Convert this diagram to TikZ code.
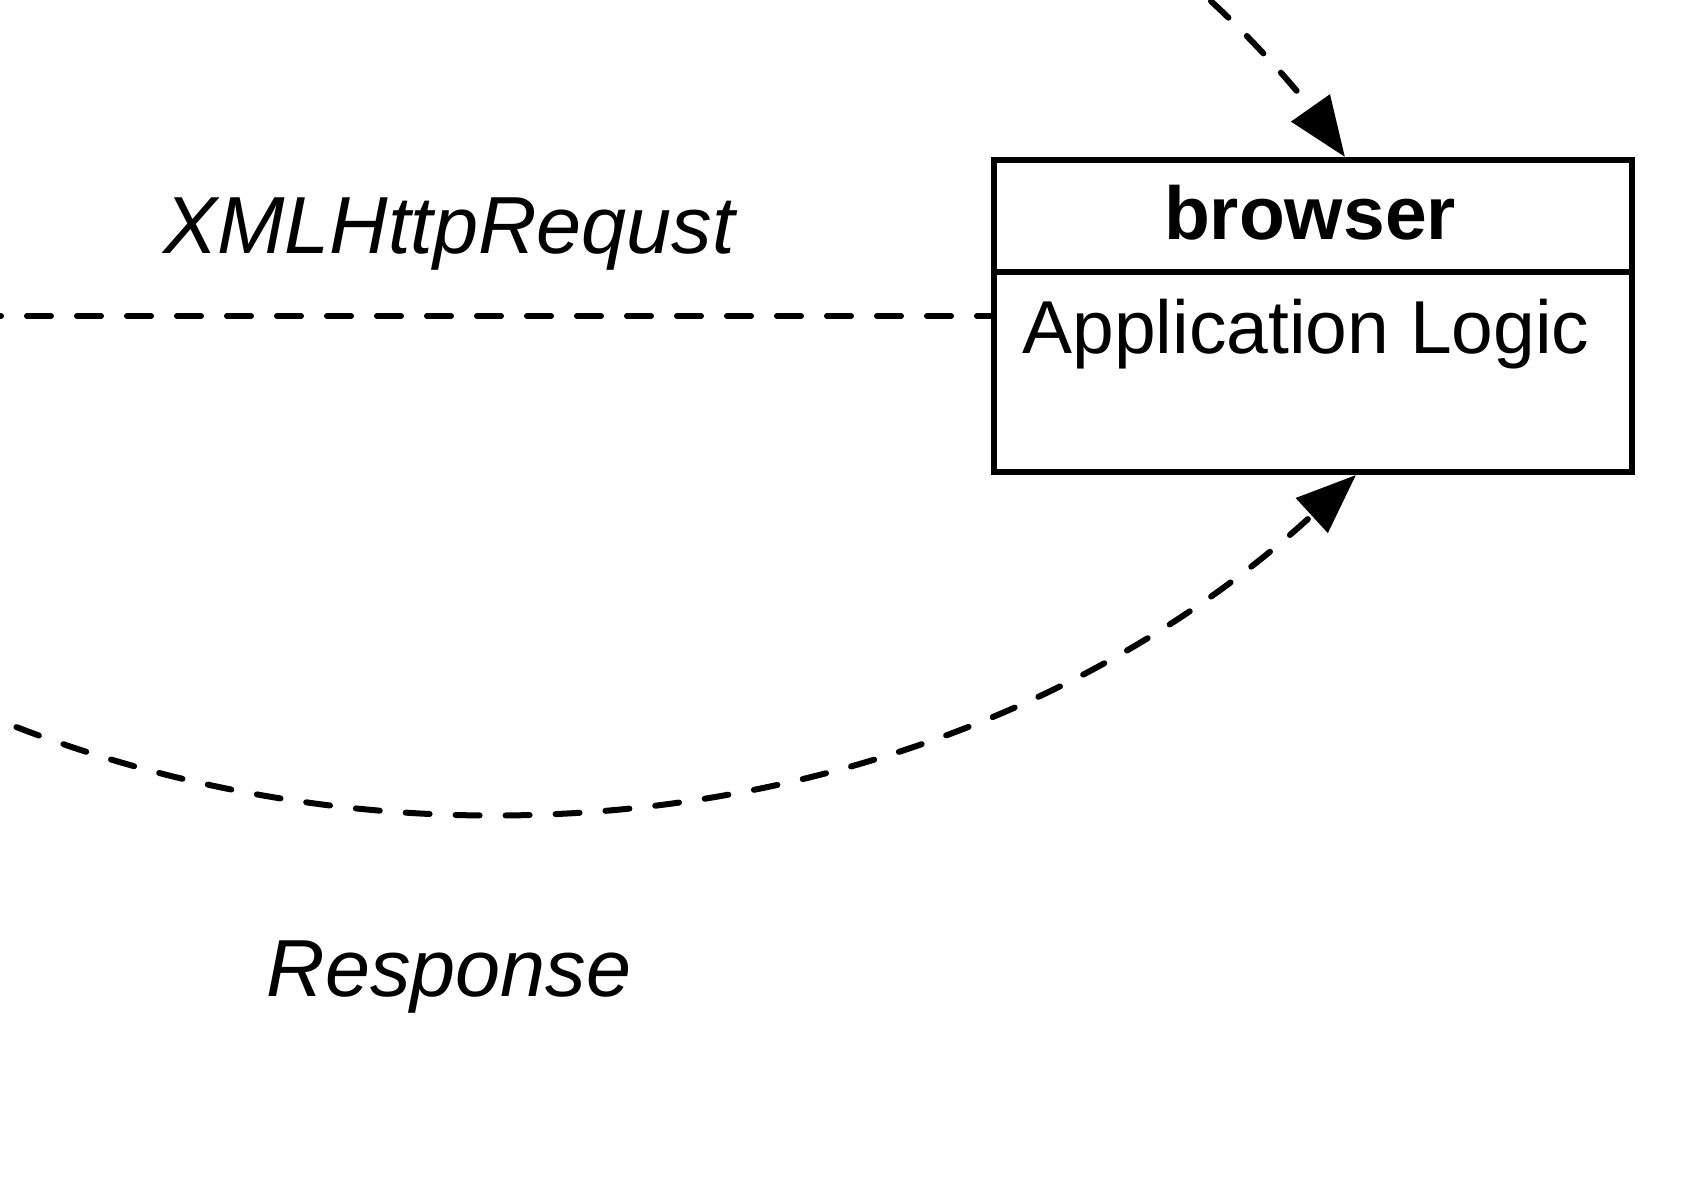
\documentclass[tikz,border=0pt]{standalone}
\usepackage{fontspec}
\setmainfont{Liberation Sans}
\usetikzlibrary{arrows.meta}
\begin{document}
\begin{tikzpicture}[x=0.5pt,y=-0.5pt,
  conn/.style={line width=3pt, line cap=round, dash pattern=on 12pt off 13pt},
  tipstyle/.style={-{Triangle[length=30pt,width=23pt]}},
  classbox/.style={draw, line width=3pt, rectangle, inner sep=0pt, minimum width=319.25pt, minimum height=156pt},
  boxtext/.style={font=\fontsize{37.5pt}{40pt}\selectfont, inner sep=0pt},
  label/.style={font=\fontsize{40.5pt}{44pt}\selectfont\itshape, inner sep=0pt}]
\useasboundingbox (0,0) rectangle (1701,1182);
\node[classbox] (box) at (1312.75,316) {};
\coordinate (divy) at (0,272);
\draw[line width=3pt] (box.west |- divy) -- (box.east |- divy);
\node[boxtext, font=\fontsize{37.5pt}{40pt}\selectfont\bfseries, anchor=base] (title) at (1310,240) {browser};
\node[boxtext, anchor=base west] (logic) at (1022,353) {Application Logic};
\node[label, anchor=base] (req) at (449,254) {XMLHttpRequst};
\node[label, anchor=base] (resp) at (449,996) {Response};
\coordinate (hstart) at (0,316);
\coordinate (topstart) at (1208,-1.5);
\coordinate (leftstart) at (0,720.6);
\draw[conn, dash phase=11.5pt] (hstart) -- (box.west);
\draw[conn, tipstyle, dash phase=23pt] (topstart) .. controls (1259.8,45.4) and (1304.7,99.7) .. ([xshift=16.1pt]box.north);
\draw[conn, tipstyle, dash phase=16.15pt] (leftstart) .. controls (461,905.9) and (989.8,810.8) .. ([xshift=21.6pt]box.south);
\end{tikzpicture}
\end{document}
